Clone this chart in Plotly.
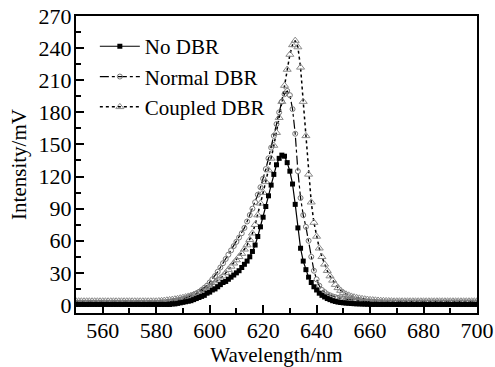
import plotly.graph_objects as go

wavelength = list(range(550, 701))

no_dbr = [
    # 550-559
    0.5, 0.5, 0.5, 0.5, 0.5, 0.5, 0.5, 0.5, 0.5, 0.5,
    # 560-569
    0.5, 0.5, 0.5, 0.5, 0.5, 0.5, 0.5, 0.5, 0.5, 0.5,
    # 570-579
    0.5, 0.5, 0.5, 0.5, 0.5, 0.5, 0.5, 0.5, 0.5, 0.5,
    # 580-589
    0.5, 0.5, 0.5, 0.5, 0.5, 0.5, 1, 1, 1.5, 2,
    # 590-599
    2.5, 3, 3.5, 4, 5, 6, 7, 8, 9, 11,
    # 600-609
    12, 14, 15, 17, 19, 21, 22, 24, 26, 28,
    # 610-619
    30, 32, 35, 38, 41, 45, 50, 56, 64, 73,
    # 620-629
    82, 92, 102, 112, 122, 131, 137, 140, 139, 133,
    # 630-639
    125, 113, 94, 72, 53, 41, 33, 26, 21, 17,
    # 640-649
    14, 11, 9, 7.5, 6, 5, 4, 3.3, 2.7, 2.3,
    # 650-659
    2, 1.8, 1.6, 1.4, 1.2, 1.1, 1, 0.9, 0.8, 0.7,
    # 660-669
    0.6, 0.5, 0.5, 0.5, 0.5, 0.5, 0.5, 0.5, 0.5, 0.5,
    # 670-679
    0.5, 0.5, 0.5, 0.5, 0.5, 0.5, 0.5, 0.5, 0.5, 0.5,
    # 680-689
    0.5, 0.5, 0.5, 0.5, 0.5, 0.5, 0.5, 0.5, 0.5, 0.5,
    # 690-700
    0.5, 0.5, 0.5, 0.5, 0.5, 0.5, 0.5, 0.5, 0.5, 0.5, 0.5,
]

normal_dbr = [
    # 550-559
    2, 2, 2, 2, 2, 2, 2, 2, 2, 2,
    # 560-569
    2, 2, 2, 2, 2, 2, 2, 2, 2, 2,
    # 570-579
    2, 2, 2, 2, 2, 2, 2, 2, 2, 2,
    # 580-589
    2, 2, 2, 2.3, 2.6, 3, 3.3, 3.7, 4.2, 4.8,
    # 590-599
    5.5, 6.3, 7.2, 8.2, 9.4, 10.7, 12.2, 14, 16, 18,
    # 600-609
    21, 24, 27, 31, 35, 39, 43, 47, 51, 55,
    # 610-619
    59, 63, 67, 72, 78, 84, 90, 96, 103, 110,
    # 620-629
    118, 127, 137, 147, 158, 169, 180, 190, 197, 200,
    # 630-639
    196, 183, 160, 125, 100, 84, 73, 60, 45, 32,
    # 640-649
    24, 18, 14, 12, 10, 9, 8, 7.3, 6.7, 6.2,
    # 650-659
    5.8, 5.4, 5, 4.7, 4.4, 4.1, 3.8, 3.5, 3.3, 3.1,
    # 660-669
    2.9, 2.7, 2.6, 2.5, 2.4, 2.4, 2.4, 2.4, 2.4, 2.4,
    # 670-679
    2.4, 2.4, 2.4, 2.4, 2.4, 2.4, 2.4, 2.4, 2.4, 2.4,
    # 680-689
    2.4, 2.4, 2.4, 2.4, 2.4, 2.4, 2.4, 2.4, 2.4, 2.4,
    # 690-700
    2.4, 2.4, 2.4, 2.4, 2.4, 2.4, 2.4, 2.4, 2.4, 2.4, 2.4,
]

coupled_dbr = [
    # 550-559
    3.5, 3.5, 3.5, 3.5, 3.5, 3.5, 3.5, 3.5, 3.5, 3.5,
    # 560-569
    3.5, 3.5, 3.5, 3.5, 3.5, 3.5, 3.5, 3.5, 3.5, 3.5,
    # 570-579
    3.5, 3.5, 3.5, 3.5, 3.5, 3.5, 3.5, 3.5, 3.5, 3.5,
    # 580-589
    3.5, 3.7, 3.9, 4.1, 4.4, 4.7, 5, 5.4, 5.8, 6.3,
    # 590-599
    6.8, 7.4, 8, 8.7, 9.5, 10.5, 11.5, 12.7, 14, 15.5,
    # 600-609
    17, 19, 21, 23, 25, 27, 30, 33, 36, 39,
    # 610-619
    42, 45, 48, 52, 56, 61, 67, 75, 84, 95,
    # 620-629
    105, 115, 126, 137, 149, 161, 175, 190, 205, 220,
    # 630-639
    234, 243, 247, 241, 222, 190, 158, 122, 96, 77,
    # 640-649
    64, 53, 45, 38, 32, 27, 23, 19, 16, 13.5,
    # 650-659
    11.5, 10, 9, 8, 7.3, 6.7, 6.2, 5.8, 5.4, 5.1,
    # 660-669
    4.8, 4.6, 4.4, 4.2, 4, 3.9, 3.8, 3.7, 3.6, 3.5,
    # 670-679
    3.5, 3.5, 3.5, 3.5, 3.5, 3.5, 3.5, 3.5, 3.5, 3.5,
    # 680-689
    3.5, 3.5, 3.5, 3.5, 3.5, 3.5, 3.5, 3.5, 3.5, 3.5,
    # 690-700
    3.5, 3.5, 3.5, 3.5, 3.5, 3.5, 3.5, 3.5, 3.5, 3.5, 3.5,
]

x_ticks = [560, 580, 600, 620, 640, 660, 680, 700]
y_ticks = [0, 30, 60, 90, 120, 150, 180, 210, 240, 270]

FONT = "Liberation Serif, Times New Roman, serif"

fig = go.Figure()
fig.add_trace(go.Scatter(
    x=wavelength, y=coupled_dbr, name="Coupled DBR", mode="lines+markers",
    line=dict(color="black", width=1.5, dash="dot"),
    marker=dict(symbol="triangle-up-open", size=7, color="#8a8a8a", line=dict(width=1)),
    legendrank=3,
))
fig.add_trace(go.Scatter(
    x=wavelength, y=normal_dbr, name="Normal DBR", mode="lines+markers",
    line=dict(color="black", width=1.2, dash="dashdot"),
    marker=dict(symbol="circle-open", size=5, color="#777777", line=dict(width=1)),
    legendrank=2,
))
fig.add_trace(go.Scatter(
    x=wavelength, y=no_dbr, name="No DBR", mode="lines+markers",
    line=dict(color="black", width=1.2),
    marker=dict(symbol="square", size=5, color="black"),
    legendrank=1,
))

axis_common = dict(
    showline=True, linecolor="black", linewidth=2, mirror=True,
    ticks="inside", ticklen=8, tickwidth=2, tickcolor="black",
    showgrid=False, zeroline=False, automargin=False,
    tickfont=dict(family=FONT, size=22, color="black"),
)

fig.update_xaxes(
    range=[550, 700], tickvals=x_ticks, ticklabelstandoff=-3,
    minor=dict(ticks="inside", ticklen=5, tickwidth=1.5, tickcolor="black", dtick=10, tick0=550),
    title=dict(text="Wavelength/nm", font=dict(family=FONT, size=21, color="black"), standoff=10),
    **axis_common,
)
fig.update_yaxes(
    range=[-7.5, 270], tickvals=y_ticks, ticklabelstandoff=-2,
    minor=dict(ticks="inside", ticklen=5, tickwidth=1.5, tickcolor="black", dtick=15, tick0=0),
    title=dict(text="Intensity/mV", font=dict(family=FONT, size=21, color="black"), standoff=6),
    **axis_common,
)

fig.update_layout(
    width=495, height=367,
    margin=dict(l=76, r=18, t=16, b=54),
    plot_bgcolor="white", paper_bgcolor="white",
    showlegend=True,
    legend=dict(
        x=0.047, y=0.966, xanchor="left", yanchor="top",
        font=dict(family=FONT, size=21, color="black"),
        bgcolor="rgba(0,0,0,0)", tracegroupgap=0, itemwidth=40,
    ),
)

fig.write_html(
    "out.html",
    config={"displayModeBar": False},
    post_script="document.body.style.margin='0';document.body.style.overflow='hidden';",
)
